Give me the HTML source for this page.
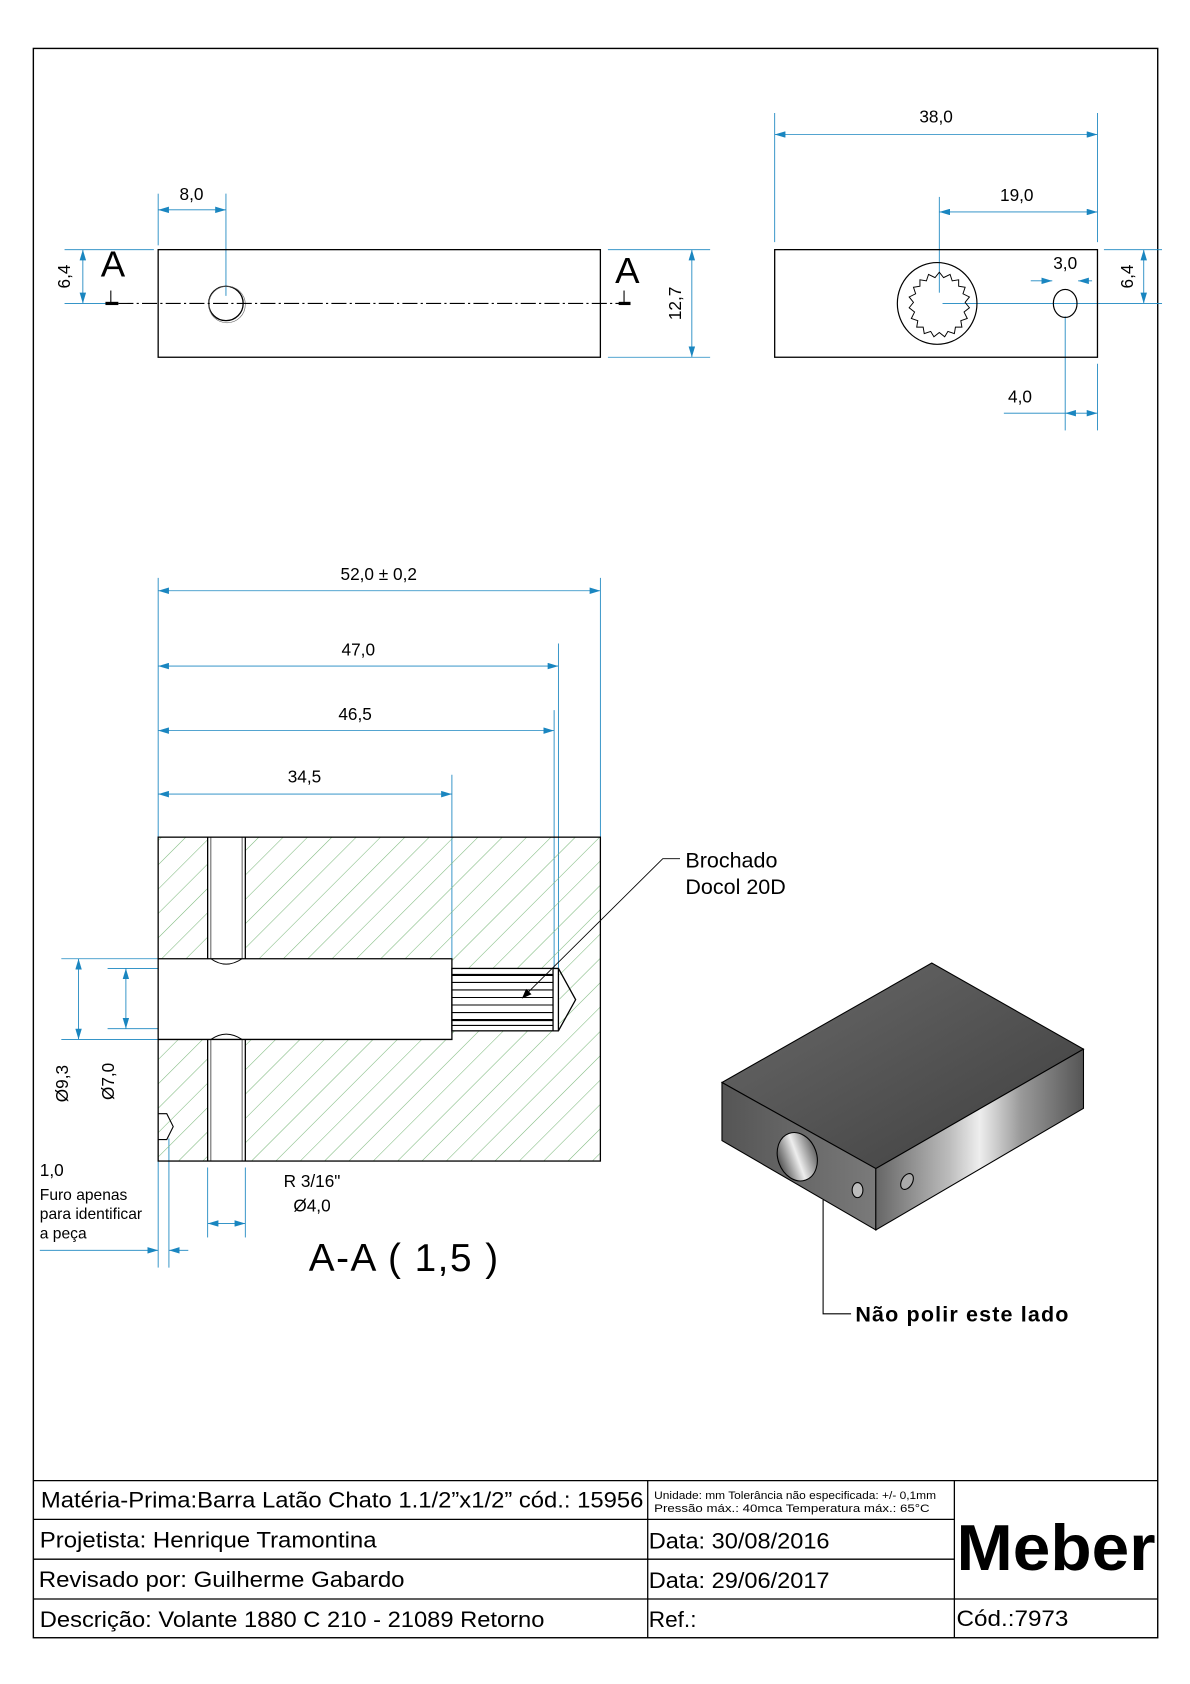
<!DOCTYPE html>
<html><head><meta charset="utf-8"><style>
html,body{margin:0;padding:0;background:#fff}
svg{display:block}
text{font-family:"Liberation Sans",Arial,sans-serif}
</style></head><body>
<svg width="1190" height="1684" viewBox="0 0 1106 1565" preserveAspectRatio="none" xmlns="http://www.w3.org/2000/svg">
<defs>
<marker id="a" viewBox="0 0 10 6" refX="10" refY="3" markerWidth="10" markerHeight="6" orient="auto-start-reverse" markerUnits="userSpaceOnUse"><path d="M0,0 L10,3 L0,6 Z" fill="#1a86c0"/></marker>
<pattern id="h" patternUnits="userSpaceOnUse" width="16" height="16" patternTransform="rotate(45)"><line x1="0" y1="0" x2="0" y2="16" stroke="#7cb87c" stroke-width="1"/></pattern>
<linearGradient id="top" x1="0" y1="0" x2="1" y2="1"><stop offset="0" stop-color="#6a6a6a"/><stop offset="1" stop-color="#3e3e3e"/></linearGradient>
<linearGradient id="rf" x1="0" y1="0" x2="1" y2="0"><stop offset="0" stop-color="#666"/><stop offset="0.35" stop-color="#bbb"/><stop offset="0.5" stop-color="#eee"/><stop offset="0.7" stop-color="#999"/><stop offset="1" stop-color="#555"/></linearGradient>
<linearGradient id="lf" x1="0" y1="0" x2="1" y2="0"><stop offset="0" stop-color="#555"/><stop offset="1" stop-color="#7a7a7a"/></linearGradient>
<linearGradient id="hole" x1="0" y1="0" x2="1" y2="0"><stop offset="0" stop-color="#555"/><stop offset="0.5" stop-color="#eee"/><stop offset="1" stop-color="#666"/></linearGradient>
</defs>

<rect x="31" y="45" width="1045" height="1477" fill="none" stroke="#000" stroke-width="1.3"/>

<g fill="none" stroke="#1a86c0" stroke-width="0.8">
<line x1="147" y1="180" x2="147" y2="228"/><line x1="210" y1="180" x2="210" y2="275"/>
<line x1="147" y1="195" x2="210" y2="195" marker-start="url(#a)" marker-end="url(#a)"/>
<line x1="60" y1="232" x2="143" y2="232"/><line x1="60" y1="282" x2="100" y2="282"/>
<line x1="77" y1="232" x2="77" y2="282" marker-start="url(#a)" marker-end="url(#a)"/>
<line x1="565" y1="232" x2="660" y2="232"/><line x1="565" y1="332" x2="660" y2="332"/>
<line x1="643" y1="232" x2="643" y2="332" marker-start="url(#a)" marker-end="url(#a)"/>
<line x1="720" y1="105" x2="720" y2="225"/><line x1="1020" y1="105" x2="1020" y2="225"/>
<line x1="720" y1="125" x2="1020" y2="125" marker-start="url(#a)" marker-end="url(#a)"/>
<line x1="873" y1="183" x2="873" y2="272"/>
<line x1="873" y1="197" x2="1020" y2="197" marker-start="url(#a)" marker-end="url(#a)"/>
<line x1="958" y1="261" x2="978" y2="261" marker-end="url(#a)"/>
<line x1="1015" y1="261" x2="1002" y2="261" marker-end="url(#a)"/>
<line x1="1026" y1="232" x2="1080" y2="232"/><line x1="876" y1="282" x2="1080" y2="282"/>
<line x1="1063" y1="232" x2="1063" y2="282" marker-start="url(#a)" marker-end="url(#a)"/>
<line x1="990" y1="294" x2="990" y2="400"/><line x1="1020" y1="338" x2="1020" y2="400"/>
<line x1="933" y1="384" x2="990" y2="384"/>
<line x1="990" y1="384" x2="1020" y2="384" marker-start="url(#a)" marker-end="url(#a)"/>
<line x1="147" y1="537" x2="147" y2="778"/><line x1="558" y1="537" x2="558" y2="778"/>
<line x1="519" y1="598" x2="519" y2="900"/><line x1="515" y1="660" x2="515" y2="900"/><line x1="420" y1="720" x2="420" y2="891"/>
<line x1="147" y1="549" x2="558" y2="549" marker-start="url(#a)" marker-end="url(#a)"/>
<line x1="147" y1="619" x2="519" y2="619" marker-start="url(#a)" marker-end="url(#a)"/>
<line x1="147" y1="679" x2="515" y2="679" marker-start="url(#a)" marker-end="url(#a)"/>
<line x1="147" y1="738" x2="420" y2="738" marker-start="url(#a)" marker-end="url(#a)"/>
<line x1="57" y1="891" x2="147" y2="891"/><line x1="57" y1="966" x2="147" y2="966"/>
<line x1="100" y1="900" x2="420" y2="900"/><line x1="100" y1="956" x2="420" y2="956"/>
<line x1="73" y1="891" x2="73" y2="966" marker-start="url(#a)" marker-end="url(#a)"/>
<line x1="117" y1="900" x2="117" y2="956" marker-start="url(#a)" marker-end="url(#a)"/>
<line x1="147" y1="1079" x2="147" y2="1178"/><line x1="157" y1="1058" x2="157" y2="1178"/>
<line x1="37" y1="1162" x2="147" y2="1162" marker-end="url(#a)"/>
<line x1="175" y1="1162" x2="157" y2="1162" marker-end="url(#a)"/>
<line x1="193" y1="1085" x2="193" y2="1150"/><line x1="228" y1="1085" x2="228" y2="1150"/>
<line x1="193" y1="1137" x2="228" y2="1137" marker-start="url(#a)" marker-end="url(#a)"/>
</g>

<rect x="147" y="232" width="411" height="100" fill="none" stroke="#000" stroke-width="1.2"/>
<circle cx="210" cy="282" r="16" fill="none" stroke="#000" stroke-width="1.2"/>
<circle cx="211" cy="283" r="17" fill="none" stroke="#666" stroke-width="0.6"/>
<line x1="110" y1="282" x2="585" y2="282" stroke="#000" stroke-width="1" stroke-dasharray="14,3,2,3"/>
<line x1="103" y1="270" x2="103" y2="282" stroke="#000"/><line x1="98" y1="282" x2="110" y2="282" stroke="#000" stroke-width="3"/>
<line x1="580" y1="270" x2="580" y2="282" stroke="#000"/><line x1="575" y1="282" x2="586" y2="282" stroke="#000" stroke-width="3"/>
<text x="105" y="257" font-size="34" text-anchor="middle">A</text>
<text x="583" y="263" font-size="34" text-anchor="middle">A</text>
<g font-size="16" text-anchor="middle">
<text x="178" y="186">8,0</text>
<text transform="translate(65,257) rotate(-90)">6,4</text>
<text transform="translate(633,282) rotate(-90)">12,7</text>
<text x="870" y="114">38,0</text>
<text x="945" y="187">19,0</text>
<text x="990" y="250">3,0</text>
<text transform="translate(1053,257) rotate(-90)">6,4</text>
<text x="948" y="374">4,0</text>
<text x="352" y="539">52,0 ± 0,2</text>
<text x="333" y="609">47,0</text>
<text x="330" y="669">46,5</text>
<text x="283" y="727">34,5</text>
<text transform="translate(63,1007) rotate(-90)">Ø9,3</text>
<text transform="translate(106,1005) rotate(-90)">Ø7,0</text>
<text x="290" y="1103">R 3/16"</text>
<text x="290" y="1126">Ø4,0</text>
</g>

<rect x="720" y="232" width="300" height="100" fill="none" stroke="#000" stroke-width="1.2"/>
<ellipse cx="871" cy="282" rx="37" ry="38" fill="none" stroke="#000" stroke-width="1.1"/>
<polygon fill="none" stroke="#000" stroke-width="0.9" points="873,253 877,258 883,255 885,261 891,260 891,266 897,267 895,273 901,276 897,281 901,286 896,290 899,296 893,298 894,304 888,304 887,310 881,308 878,313 873,309 868,313 865,308 859,310 858,304 852,304 853,298 847,296 850,290 845,286 849,281 845,276 851,273 849,267 855,266 855,260 861,261 863,255 869,258"/>
<ellipse cx="990" cy="282" rx="11" ry="13" fill="none" stroke="#000" stroke-width="1.1"/>

<rect x="147" y="778" width="411" height="301" fill="url(#h)"/>
<rect x="193" y="778" width="35" height="301" fill="#fff"/>
<rect x="147" y="891" width="273" height="75" fill="#fff"/>
<rect x="420" y="900" width="100" height="58" fill="#fff"/>
<g fill="none" stroke="#000" stroke-width="1.2">
<rect x="147" y="778" width="411" height="301"/>
<line x1="193" y1="778" x2="193" y2="891"/><line x1="228" y1="778" x2="228" y2="891"/>
<line x1="193" y1="966" x2="193" y2="1079"/><line x1="228" y1="966" x2="228" y2="1079"/>
<line x1="196" y1="778" x2="196" y2="891" stroke-width="0.6"/><line x1="196" y1="966" x2="196" y2="1079" stroke-width="0.6"/>
<line x1="225" y1="778" x2="225" y2="891" stroke-width="0.6"/><line x1="225" y1="966" x2="225" y2="1079" stroke-width="0.6"/>
<path d="M147,891 H420 V966 H147"/>
<path d="M196,891 Q210,901 225,891 M196,966 Q210,956 225,966" stroke-width="0.9"/>
<rect x="420" y="900" width="94" height="58"/>
<path d="M514,900 H519 L535,929 L519,958 H514" />
<line x1="519" y1="900" x2="519" y2="958"/>
<path d="M147,1035 H155 L161,1047 L155,1059 H147" stroke-width="1"/>
</g>
<g stroke="#000" stroke-width="1">
<line x1="420" y1="906" x2="514" y2="906" stroke-width="2"/><line x1="420" y1="913" x2="514" y2="913"/>
<line x1="420" y1="920" x2="514" y2="920"/><line x1="420" y1="927" x2="514" y2="927"/>
<line x1="420" y1="934" x2="514" y2="934"/><line x1="420" y1="941" x2="514" y2="941"/>
<line x1="420" y1="948" x2="514" y2="948" stroke-width="2"/><line x1="420" y1="953" x2="514" y2="953"/>
</g>
<polyline points="632,798 616,798 488,925" fill="none" stroke="#000" stroke-width="0.8"/>
<path d="M485,928 l9,-4 -5,-5 z" fill="#000"/>
<text x="637" y="806" font-size="20">Brochado</text>
<text x="637" y="831" font-size="20">Docol 20D</text>
<text x="37" y="1093" font-size="16">1,0</text>
<text x="37" y="1115" font-size="14.5">Furo apenas</text>
<text x="37" y="1133" font-size="14.5">para identificar</text>
<text x="37" y="1151" font-size="14.5">a peça</text>
<text x="375" y="1181" font-size="36" text-anchor="middle" textLength="176">A-A ( 1,5 )</text>

<polygon points="671,1006 866,895 1007,975 814,1086" fill="url(#top)" stroke="#000" stroke-width="1"/>
<polygon points="671,1006 814,1086 814,1143 671,1060" fill="url(#lf)" stroke="#000" stroke-width="1"/>
<polygon points="814,1086 1007,975 1007,1030 814,1143" fill="url(#rf)" stroke="#000" stroke-width="1"/>
<ellipse cx="741" cy="1075" rx="18" ry="23" transform="rotate(-20 741 1075)" fill="url(#hole)" stroke="#000"/>
<ellipse cx="797" cy="1106" rx="5" ry="7" fill="#bbb" stroke="#000"/>
<ellipse cx="843" cy="1098" rx="5" ry="8" transform="rotate(30 843 1098)" fill="#aaa" stroke="#000"/>
<polyline points="765,1115 765,1221 791,1221" fill="none" stroke="#000" stroke-width="1"/>
<text x="795" y="1228" font-size="20" font-weight="bold" textLength="198">Não polir este lado</text>

<g fill="none" stroke="#000" stroke-width="1.2">
<line x1="31" y1="1376" x2="1076" y2="1376"/>
<line x1="31" y1="1412" x2="887" y2="1412"/>
<line x1="31" y1="1449" x2="887" y2="1449"/>
<line x1="31" y1="1486" x2="1076" y2="1486"/>
<line x1="602" y1="1376" x2="602" y2="1522"/>
<line x1="887" y1="1376" x2="887" y2="1522"/>
</g>
<g font-size="21">
<text x="38" y="1401" textLength="560" lengthAdjust="spacingAndGlyphs">Matéria-Prima:Barra Latão Chato 1.1/2”x1/2” cód.: 15956</text>
<text x="37" y="1438" textLength="313" lengthAdjust="spacingAndGlyphs">Projetista: Henrique Tramontina</text>
<text x="36" y="1475" textLength="340" lengthAdjust="spacingAndGlyphs">Revisado por:  Guilherme Gabardo</text>
<text x="37" y="1512" textLength="469" lengthAdjust="spacingAndGlyphs">Descrição: Volante 1880 C 210 - 21089 Retorno</text>
<text x="603" y="1439" textLength="168" lengthAdjust="spacingAndGlyphs">Data: 30/08/2016</text>
<text x="603" y="1476" textLength="168" lengthAdjust="spacingAndGlyphs">Data: 29/06/2017</text>
<text x="603" y="1512">Ref.:</text>
<text x="889" y="1511" textLength="104" lengthAdjust="spacingAndGlyphs">Cód.:7973</text>
</g>
<text x="608" y="1393" font-size="10" textLength="262" lengthAdjust="spacingAndGlyphs">Unidade: mm Tolerância não especificada: +/- 0,1mm</text>
<text x="608" y="1405" font-size="10" textLength="256" lengthAdjust="spacingAndGlyphs">Pressão máx.: 40mca       Temperatura máx.: 65°C</text>
<text x="889" y="1459" font-size="60" font-weight="bold" textLength="185" lengthAdjust="spacingAndGlyphs">Meber</text>
</svg>
</body></html>
